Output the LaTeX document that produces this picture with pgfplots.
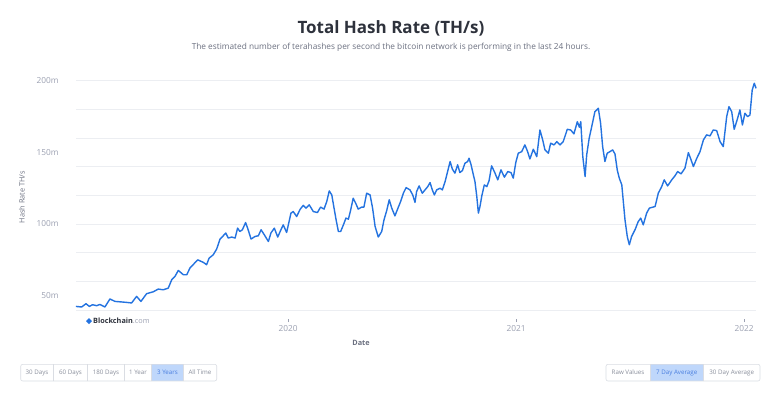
\documentclass[border=0pt]{standalone}
\usepackage{fontspec}
\setmainfont{Open Sans}
\usepackage{pgfplots}
\usepackage{pgfplotstable}
\pgfplotsset{compat=1.18}
\definecolor{hashblue}{HTML}{2473E0}
\definecolor{gridc}{HTML}{ECEEF2}
\definecolor{tickc}{HTML}{9CA1B2}
\definecolor{titlec}{HTML}{2E323C}
\definecolor{subc}{HTML}{6B7080}
\definecolor{btnb}{HTML}{DADDE3}
\definecolor{btnfill}{HTML}{BFD7FB}
\definecolor{btntext}{HTML}{4A7FE0}
\definecolor{btngray}{HTML}{8A8F9C}

\pgfplotstableread{
x y
2019.070 42.5
2019.095 42.1
2019.114 44.4
2019.129 42.5
2019.143 43.7
2019.161 43.0
2019.175 43.9
2019.197 42.1
2019.219 47.7
2019.241 46.0
2019.271 45.6
2019.293 45.3
2019.314 44.9
2019.336 49.5
2019.355 46.0
2019.380 51.4
2019.409 52.7
2019.431 54.6
2019.453 54.1
2019.475 55.3
2019.490 61.1
2019.504 63.4
2019.519 67.6
2019.541 64.6
2019.556 64.6
2019.570 69.3
2019.604 75.0
2019.629 73.2
2019.643 71.6
2019.654 76.2
2019.672 78.5
2019.687 82.5
2019.702 89.5
2019.716 91.8
2019.727 93.7
2019.738 90.2
2019.753 90.9
2019.768 90.2
2019.779 97.1
2019.789 94.8
2019.800 96.0
2019.814 101.0
2019.823 97.1
2019.838 89.5
2019.855 91.3
2019.870 91.8
2019.882 96.0
2019.896 92.5
2019.914 87.8
2019.925 93.7
2019.940 97.1
2019.955 90.9
2019.969 96.0
2019.979 99.4
2019.994 94.1
2020.013 107.6
2020.023 108.7
2020.038 105.2
2020.053 110.2
2020.067 113.0
2020.079 111.1
2020.093 113.4
2020.111 108.7
2020.129 108.0
2020.143 111.8
2020.158 110.4
2020.170 115.7
2020.181 123.1
2020.192 120.3
2020.202 111.1
2020.211 102.9
2020.221 94.8
2020.231 94.8
2020.243 99.4
2020.254 104.1
2020.265 103.4
2020.275 109.9
2020.286 118.0
2020.298 114.1
2020.308 110.4
2020.323 111.8
2020.333 111.8
2020.345 121.5
2020.360 120.3
2020.371 111.1
2020.382 98.3
2020.396 90.9
2020.411 94.8
2020.421 102.9
2020.433 109.4
2020.444 116.9
2020.455 111.1
2020.469 105.7
2020.484 111.8
2020.494 115.7
2020.506 121.5
2020.518 125.4
2020.535 123.8
2020.547 120.3
2020.557 115.1
2020.564 122.6
2020.575 126.6
2020.589 121.5
2020.601 123.8
2020.613 126.1
2020.623 128.9
2020.633 123.8
2020.642 120.3
2020.652 123.8
2020.667 125.0
2020.677 123.8
2020.689 129.6
2020.700 136.6
2020.711 143.6
2020.721 138.3
2020.732 135.5
2020.744 141.3
2020.754 135.9
2020.765 137.3
2020.776 142.4
2020.788 143.6
2020.794 145.9
2020.803 141.3
2020.813 134.3
2020.820 129.6
2020.828 119.2
2020.835 107.6
2020.842 112.2
2020.850 119.6
2020.861 127.3
2020.872 126.1
2020.882 130.3
2020.893 140.6
2020.908 135.5
2020.920 130.8
2020.934 137.8
2020.949 132.7
2020.964 136.6
2020.978 135.9
2020.988 132.0
2020.999 142.9
2021.010 149.4
2021.025 150.5
2021.039 155.2
2021.051 150.5
2021.061 145.4
2021.076 152.2
2021.091 147.0
2021.105 165.6
2021.117 158.7
2021.127 151.7
2021.142 149.4
2021.152 156.4
2021.167 155.2
2021.179 157.5
2021.193 155.2
2021.207 157.5
2021.225 166.1
2021.240 165.6
2021.254 162.9
2021.269 171.4
2021.278 167.5
2021.284 171.4
2021.293 147.0
2021.303 133.1
2021.310 148.2
2021.321 159.9
2021.332 167.9
2021.346 178.4
2021.361 180.8
2021.371 170.3
2021.380 154.0
2021.390 143.6
2021.400 149.4
2021.412 150.5
2021.424 151.7
2021.434 148.9
2021.444 137.8
2021.453 132.0
2021.464 127.3
2021.478 102.9
2021.488 91.3
2021.497 85.5
2021.507 91.3
2021.522 96.0
2021.536 101.7
2021.547 104.1
2021.558 99.4
2021.573 107.6
2021.585 111.1
2021.610 112.2
2021.624 121.5
2021.639 126.1
2021.650 130.8
2021.665 126.6
2021.683 130.8
2021.697 133.6
2021.709 136.6
2021.724 135.0
2021.741 139.0
2021.756 149.8
2021.768 144.7
2021.778 140.1
2021.793 145.9
2021.807 150.5
2021.822 158.7
2021.836 162.2
2021.851 161.5
2021.865 165.6
2021.880 165.2
2021.895 157.5
2021.909 154.0
2021.924 174.9
2021.934 181.9
2021.946 178.4
2021.957 166.1
2021.972 173.8
2021.982 179.6
2021.993 169.1
2022.004 177.3
2022.016 174.9
2022.026 176.1
2022.036 193.5
2022.045 198.2
2022.053 194.7
}\hashdata

\begin{document}
\begin{tikzpicture}[x=1pt,y=1pt]
\fill[white] (0,0) rectangle (768,394);
% title
\node[text=titlec, font=\bfseries\fontsize{17}{20}\selectfont] at (391,366) {Total Hash Rate (TH/s)};
\node[text=subc, font=\fontsize{8.3}{10}\selectfont] at (391,347) {The estimated number of terahashes per second the bitcoin network is performing in the last 24 hours.};
% y label
\node[text=subc, rotate=90, font=\fontsize{7.3}{9}\selectfont] at (22,197) {Hash Rate TH/s};
% x label
\node[text=subc, font=\bfseries\fontsize{7.3}{9}\selectfont] at (361,51) {Date};
\begin{axis}[
  at={(76pt,84pt)}, anchor=south west, scale only axis,
  width=680pt, height=229.3pt,
  xmin=2019.0702, xmax=2022.0526, ymin=40, ymax=200,
  axis line style={draw=none},
  ytick={50,100,150,200}, yticklabels={50m,100m,150m,200m},
  minor ytick={40,60,...,200}, yminorgrids,
  minor grid style={gridc, line width=0.7pt},
  ytick style={draw=none},
  xtick={2020,2021,2022}, xticklabels={2020,2021,2022},
  xtick pos=lower, ytick pos=left,
  tick align=outside, major tick length=3pt,
  xtick style={draw=tickc, line width=0.6pt, yshift=-9pt},
  xticklabel style={text=tickc, font=\fontsize{8.3}{10}\selectfont, yshift=-9pt},
  yticklabel style={text=tickc, font=\fontsize{8.3}{10}\selectfont, xshift=-11pt},
  clip=false,
]
\addplot[hashblue, line width=1.4pt, line join=round] table[x=x, y=y] {\hashdata};
\end{axis}
% blockchain logo
\fill[hashblue] (89,76) -- (92,73) -- (89,70) -- (86,73) -- cycle;
\node[anchor=west, inner sep=0, font=\fontsize{7.3}{9}\selectfont] at (93,73) {\textbf{\color{titlec}Blockchain}{\color{tickc}.com}};
% left buttons
\fill[btnfill] (151.7,13) rectangle (183.3,29.7);
\draw[btnb, line width=0.6pt, rounded corners=2pt] (20.7,13) rectangle (216.7,29.7);
\foreach \xx in {53.3,87.7,124.3,151.7,183.3} \draw[btnb, line width=0.6pt] (\xx,13) -- (\xx,29.7);
\begin{scope}[every node/.style={font=\fontsize{6.2}{8}\selectfont, text=btngray}]
\node at (37,21.4) {30 Days};
\node at (70.5,21.4) {60 Days};
\node at (106,21.4) {180 Days};
\node at (138,21.4) {1 Year};
\node[text=btntext] at (167.5,21.4) {3 Years};
\node at (200,21.4) {All Time};
\end{scope}
% right buttons
\fill[btnfill] (650,13) rectangle (703.3,29.7);
\draw[btnb, line width=0.6pt, rounded corners=2pt] (606,13) rectangle (760,29.7);
\foreach \xx in {650,703.3} \draw[btnb, line width=0.6pt] (\xx,13) -- (\xx,29.7);
\begin{scope}[every node/.style={font=\fontsize{6.2}{8}\selectfont, text=btngray}]
\node at (628,21.4) {Raw Values};
\node[text=btntext] at (676.7,21.4) {7 Day Average};
\node at (731.7,21.4) {30 Day Average};
\end{scope}
\end{tikzpicture}
\end{document}
